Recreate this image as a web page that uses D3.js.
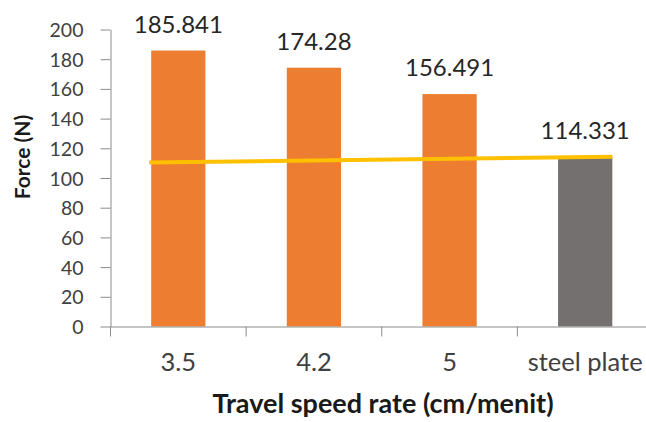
<!DOCTYPE html>
<html>
<head>
<meta charset="utf-8">
<script src="https://cdn.jsdelivr.net/npm/d3@7"></script>
<style>
  html, body { margin: 0; padding: 0; background: #fff; }
  svg { display: block; }
  text { font-family: Lato, "Open Sans", sans-serif; }
</style>
</head>
<body>
<svg id="chart" width="646" height="422"></svg>
<script>
// Pull force per travel speed, compared with plain steel plate
const categories = ["3.5", "4.2", "5", "steel plate"];
const forces = [185.841, 174.28, 156.491, 114.331];
const barColors = ["#ED7D31", "#ED7D31", "#ED7D31", "#747070"];
const yTicks = [0, 20, 40, 60, 80, 100, 120, 140, 160, 180, 200];
// Reference line: start level at the first bar, end level at the steel plate value
const refLine = [110.4, 114.331];

const svg = d3.select("#chart");
const plot = { left: 110.5, right: 653, top: 29.5, bottom: 326.5 };

const x = d3.scaleBand()
  .domain(categories)
  .range([plot.left, plot.right])
  .paddingInner(0.6)
  .paddingOuter(0.3);

const y = d3.scaleLinear()
  .domain([0, 200])
  .range([plot.bottom, plot.top]);

const axisColor = "#8C8C8C";
const textColor = "#404040";

// Bars
svg.append("g")
  .selectAll("rect")
  .data(forces)
  .join("rect")
  .attr("x", (d, i) => x(categories[i]))
  .attr("y", d => y(d))
  .attr("width", x.bandwidth())
  .attr("height", d => y(0) - y(d))
  .attr("fill", (d, i) => barColors[i]);

// Y axis
const yAxis = svg.append("g")
  .attr("transform", `translate(${plot.left},0)`)
  .call(d3.axisLeft(y).tickValues(yTicks).tickSize(10).tickPadding(17).tickSizeOuter(0));
yAxis.select(".domain").attr("stroke", axisColor);
yAxis.selectAll(".tick line").attr("stroke", axisColor);
yAxis.selectAll(".tick text")
  .attr("fill", textColor)
  .style("font-size", "19.5px")
  .attr("dy", "0.36em");

// X axis: category labels centred under bars, ticks on band boundaries
const xAxis = svg.append("g")
  .attr("transform", `translate(0,${plot.bottom})`)
  .call(d3.axisBottom(x).tickSize(0).tickPadding(26).tickSizeOuter(0));
xAxis.select(".domain").attr("stroke", axisColor);
xAxis.selectAll(".tick text")
  .attr("fill", textColor)
  .style("font-size", "25.5px")
  .attr("dy", "0.71em");

const step = x.step();
const boundaries = categories.map(c => x(c) + x.bandwidth() / 2 - step / 2)
  .concat([x(categories[categories.length - 1]) + x.bandwidth() / 2 + step / 2]);
svg.append("g")
  .selectAll("line")
  .data(boundaries)
  .join("line")
  .attr("x1", d => d).attr("x2", d => d)
  .attr("y1", plot.bottom).attr("y2", plot.bottom + 10)
  .attr("stroke", axisColor);

// Reference line across the bars
const first = categories[0], last = categories[categories.length - 1];
const lineX = [x(first) - 2, x(last) + x.bandwidth()];
svg.append("line")
  .attr("x1", lineX[0]).attr("y1", y(refLine[0]))
  .attr("x2", lineX[1]).attr("y2", y(refLine[1]))
  .attr("stroke", "#FFC000")
  .attr("stroke-width", 4);

// Value labels above bars
svg.append("g")
  .selectAll("text")
  .data(forces)
  .join("text")
  .attr("x", (d, i) => x(categories[i]) + x.bandwidth() / 2)
  .attr("y", d => y(d) - 18)
  .attr("text-anchor", "middle")
  .attr("fill", "#262626")
  .style("font-size", "24px")
  .text(d => d);

// Axis titles
svg.append("text")
  .attr("x", 383)
  .attr("y", 413)
  .attr("text-anchor", "middle")
  .attr("fill", "#1a1a1a")
  .style("font-size", "27px")
  .style("font-weight", "bold")
  .text("Travel speed rate (cm/menit)");

svg.append("text")
  .attr("transform", "translate(30,157) rotate(-90)")
  .attr("text-anchor", "middle")
  .attr("fill", "#1a1a1a")
  .style("font-size", "21px")
  .style("font-weight", "bold")
  .text("Force (N)");
</script>
</body>
</html>
